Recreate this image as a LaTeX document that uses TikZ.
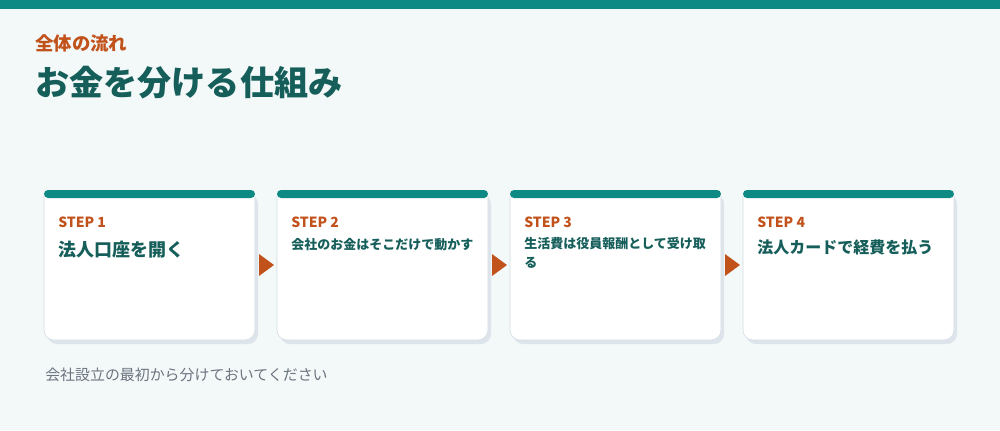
\documentclass[tikz,border=0pt]{standalone}
\usepackage{fontspec}
\usetikzlibrary{calc}
\setmainfont{Noto Sans CJK JP}
\definecolor{bgc}{HTML}{F3F8F8}
\definecolor{tealbar}{HTML}{0E8A84}
\definecolor{darkteal}{HTML}{155E5A}
\definecolor{accent}{HTML}{C2521B}
\definecolor{shadowc}{HTML}{DDE4EB}
\definecolor{borderc}{HTML}{D3DCE3}
\definecolor{footc}{HTML}{6B7580}
\tikzset{
  steplabel/.style={anchor=west, inner sep=0pt, text=accent, font=\bfseries\fontsize{10.5pt}{12pt}\selectfont},
  cardtitle/.style={anchor=west, inner sep=0pt, text=darkteal, font=\bfseries\fontsize{#1}{1.45\dimexpr#1\relax}\selectfont, align=left},
  arrowtri/.style={fill=accent}
}
\begin{document}
\begin{tikzpicture}[x=0.75pt,y=-0.75pt]
\fill[bgc] (0,0) rectangle (1000,430);
\useasboundingbox (0,0) rectangle (1000,430);
\fill[tealbar] (0,0) rectangle (1000,8.5);
% header
\node[anchor=west, inner sep=0pt, text=accent, font=\bfseries\fontsize{13.8pt}{16pt}\selectfont] (kicker) at (35,43) {全体の流れ};
\node[anchor=west, inner sep=0pt, text=darkteal, font=\bfseries\fontsize{25.6pt}{30pt}\selectfont] (title) at (35,83) {お金を分ける仕組み};
% cards
\foreach \i in {0,1,2,3}{
  \pgfmathsetmacro{\x}{44+233*\i}
  \fill[shadowc, rounded corners=7.5pt] (\x+3,194) rectangle (\x+214,344);
  \draw[borderc, fill=white, rounded corners=7.5pt] (\x,196) -- (\x,340) -- (\x+211,340) -- (\x+211,196);
  \fill[tealbar, rounded corners=3pt] (\x,190) rectangle (\x+211,198);
  \coordinate (c\i) at (\x+211,265);
}
\foreach \i in {0,1,2}{
  \fill[arrowtri] ($(c\i)+(4,-11)$) -- ($(c\i)+(19,0)$) -- ($(c\i)+(4,11)$) -- cycle;
}
\node[steplabel] (s1) at (58,222) {STEP 1};
\node[steplabel] (s2) at (291,222) {STEP 2};
\node[steplabel] (s3) at (524,222) {STEP 3};
\node[steplabel] (s4) at (757,222) {STEP 4};
\node[cardtitle=13.5pt] (t1) at (58,250) {法人口座を開く};
\node[cardtitle=9.75pt] (t2) at (291,245) {会社のお金はそこだけで動かす};
\node[cardtitle=9.75pt, anchor=north west] (t3) at (524,237) {生活費は役員報酬として受け取\\る};
\node[cardtitle=12pt] (t4) at (757,247) {法人カードで経費を払う};
% footer
\node[anchor=west, inner sep=0pt, text=footc, font=\fontsize{11.2pt}{13pt}\selectfont] (foot) at (45,375) {会社設立の最初から分けておいてください};
\end{tikzpicture}
\end{document}
